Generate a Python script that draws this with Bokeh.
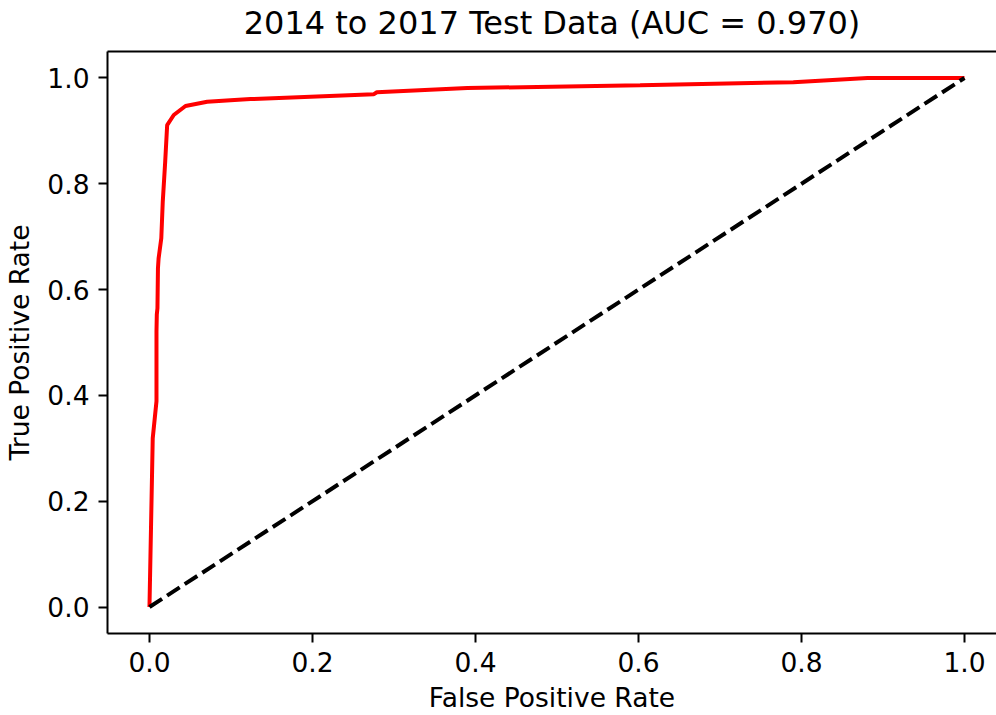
from bokeh.plotting import figure
from bokeh.models import Range1d, FixedTicker, PrintfTickFormatter, LinearAxis
from bokeh.embed import file_html
from bokeh.resources import INLINE

# ROC curve for the 2014-2017 test set
fpr = [0.0, 0.004, 0.0086, 0.0086, 0.0090, 0.0098, 0.0104, 0.0112, 0.0145,
       0.0163, 0.0193, 0.0217, 0.0298, 0.0442, 0.0708, 0.0994, 0.124, 0.275,
       0.279, 0.390, 0.602, 0.790, 0.881, 1.0]
tpr = [0.0, 0.319, 0.389, 0.521, 0.553, 0.565, 0.640, 0.659, 0.697,
       0.766, 0.842, 0.911, 0.930, 0.947, 0.955, 0.958, 0.960, 0.969,
       0.973, 0.981, 0.986, 0.992, 1.0, 1.0]

# chance line
diag_x = [0.0, 1.0]
diag_y = [0.0, 1.0]

ticks = [0.0, 0.2, 0.4, 0.6, 0.8, 1.0]
auc = 0.970

FONT = "DejaVu Sans"
LABEL_SIZE = "26.5px"

p = figure(width=996, height=715,
           x_range=Range1d(-0.0515, 1.0393), y_range=Range1d(-0.05, 1.05),
           output_backend="svg", toolbar_location=None,
           min_border_left=107, min_border_right=0,
           min_border_top=50, min_border_bottom=82)

p.outline_line_color = None
p.xgrid.visible = False
p.ygrid.visible = False
p.background_fill_color = "white"
p.border_fill_color = "white"
p.title.visible = False

for ax in (p.xaxis[0], p.yaxis[0]):
    ax.ticker = FixedTicker(ticks=ticks)
    ax.formatter = PrintfTickFormatter(format="%.1f")
    ax.minor_tick_line_color = None
    ax.major_tick_in = 0
    ax.major_tick_out = 9
    ax.major_tick_line_width = 2
    ax.major_tick_line_color = "black"
    ax.axis_line_width = 2
    ax.axis_line_color = "black"
    ax.major_label_text_font = FONT
    ax.major_label_text_font_size = LABEL_SIZE
    ax.major_label_text_color = "black"
    ax.major_label_standoff = 9
    ax.axis_label_text_font = FONT
    ax.axis_label_text_font_size = LABEL_SIZE
    ax.axis_label_text_font_style = "normal"
    ax.axis_label_text_color = "black"

p.xaxis.axis_label = "False Positive Rate"
p.yaxis.axis_label = "True Positive Rate"
p.xaxis.axis_label_standoff = 7
p.yaxis.axis_label_standoff = 9

# top spine, carrying the chart title as its label
top = LinearAxis(ticker=FixedTicker(ticks=[]), axis_line_width=2,
                 axis_line_color="black", major_tick_out=0, major_tick_in=0,
                 minor_tick_out=0, minor_tick_in=0,
                 major_label_text_font_size="0px",
                 axis_label=f"2014 to 2017 Test Data (AUC = {auc:.3f})",
                 axis_label_standoff=10,
                 axis_label_text_font=FONT,
                 axis_label_text_font_size="32px",
                 axis_label_text_font_style="normal",
                 axis_label_text_color="black")
p.add_layout(top, "above")

p.line(fpr, tpr, line_color="#ff0000", line_width=4)
p.line(diag_x, diag_y, line_color="black", line_width=4, line_dash="15 6")

open("out.html", "w").write(file_html(p, INLINE))
